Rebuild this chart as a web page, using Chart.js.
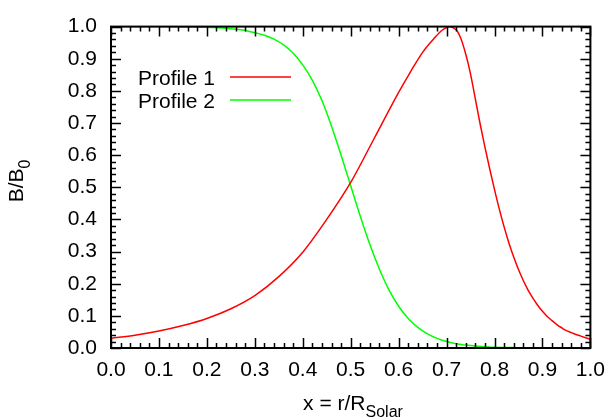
<!DOCTYPE html>
<html>
<head>
<meta charset="utf-8">
<script src="https://cdn.jsdelivr.net/npm/chart.js@4.4.0/dist/chart.umd.min.js"></script>
<style>
	html, body { margin: 0; padding: 0; background: #fff; }
	#wrap { width: 615px; height: 419px; }
</style>
</head>
<body>
<div id="wrap"><canvas id="myChart" width="615" height="419"></canvas></div>
<script>
const p1X = [0.00, 0.05, 0.10, 0.15, 0.20, 0.25, 0.30, 0.35, 0.40, 0.45, 0.50, 0.55, 0.60, 0.625, 0.65, 0.675, 0.69, 0.70, 0.705, 0.71, 0.715, 0.72, 0.725, 0.73, 0.735, 0.74, 0.745, 0.75, 0.76, 0.77, 0.78, 0.79, 0.80, 0.81, 0.82, 0.83, 0.84, 0.85, 0.86, 0.87, 0.88, 0.89, 0.90, 0.91, 0.92, 0.93, 0.94, 0.95, 0.96, 0.97, 0.98, 0.99, 1.00];
const p1Y = [0.030, 0.040, 0.053, 0.070, 0.092, 0.122, 0.163, 0.222, 0.298, 0.400, 0.515, 0.655, 0.795, 0.860, 0.920, 0.965, 0.988, 0.997, 1.000, 0.999, 0.995, 0.990, 0.979, 0.962, 0.940, 0.914, 0.885, 0.852, 0.775, 0.697, 0.625, 0.557, 0.493, 0.432, 0.377, 0.327, 0.283, 0.244, 0.210, 0.180, 0.155, 0.133, 0.114, 0.098, 0.085, 0.073, 0.063, 0.054, 0.048, 0.042, 0.037, 0.032, 0.027];

const p2X = [0.00, 0.10, 0.15, 0.20, 0.25, 0.28, 0.30, 0.32, 0.34, 0.36, 0.38, 0.40, 0.42, 0.44, 0.46, 0.48, 0.50, 0.52, 0.54, 0.56, 0.58, 0.60, 0.62, 0.64, 0.66, 0.68, 0.70, 0.72, 0.74, 0.76, 0.78, 0.80, 0.85, 0.90, 1.00];
const p2Y = [1.000, 1.000, 0.999, 0.998, 0.993, 0.988, 0.981, 0.973, 0.961, 0.943, 0.917, 0.881, 0.833, 0.770, 0.690, 0.600, 0.505, 0.410, 0.322, 0.245, 0.180, 0.130, 0.092, 0.064, 0.044, 0.030, 0.020, 0.013, 0.009, 0.006, 0.004, 0.002, 0.001, 0.000, 0.000];

const seriesNames = ['Profile 1', 'Profile 2'];
const seriesColors = ['#ff0000', '#00ff00'];
const tickValues = [0, 0.1, 0.2, 0.3, 0.4, 0.5, 0.6, 0.7, 0.8, 0.9, 1.0];

const FONT = 'Liberation Sans, Arial, sans-serif';

const toPoints = (xs, ys) => xs.map((x, i) => ({ x: x, y: ys[i] }));

// border, inward ticks, key and axis titles drawn gnuplot style
const gnuFrame = {
	id: 'gnuFrame',
	afterDatasetsDraw(chart) {
		const ctx = chart.ctx;
		const a = chart.chartArea;
		const sx = chart.scales.x, sy = chart.scales.y;
		ctx.save();
		ctx.strokeStyle = '#000';
		ctx.lineWidth = 1.5;
		for (let i = 0; i <= 50; i++) {
			const v = i / 50;
			const len = (i % 5 === 0) ? 10 : 5;
			const px = Math.round(sx.getPixelForValue(v)) + 0.5;
			const py = Math.round(sy.getPixelForValue(v)) + 0.5;
			ctx.beginPath();
			ctx.moveTo(px, a.bottom); ctx.lineTo(px, a.bottom - len);
			ctx.moveTo(px, a.top); ctx.lineTo(px, a.top + len);
			ctx.moveTo(a.left, py); ctx.lineTo(a.left + len, py);
			ctx.moveTo(a.right, py); ctx.lineTo(a.right - len, py);
			ctx.stroke();
		}
		ctx.lineWidth = 2;
		ctx.strokeRect(a.left, a.top, a.right - a.left, a.bottom - a.top);

		// key
		ctx.font = '21px ' + FONT;
		ctx.fillStyle = '#000';
		ctx.textAlign = 'right';
		ctx.textBaseline = 'alphabetic';
		chart.data.datasets.forEach((ds, i) => {
			const y = 77 + i * 23;
			ctx.fillText(ds.label, 215, y + 8);
			ctx.strokeStyle = ds.borderColor;
			ctx.lineWidth = 1.5;
			ctx.beginPath();
			ctx.moveTo(230, y); ctx.lineTo(291, y);
			ctx.stroke();
		});

		// x title
		ctx.textAlign = 'left';
		ctx.font = '21px ' + FONT;
		const main = 'x = r/R', sub = 'Solar';
		const w1 = ctx.measureText(main).width;
		ctx.font = '16px ' + FONT;
		const w2 = ctx.measureText(sub).width;
		let x0 = 353 - (w1 + w2) / 2;
		ctx.font = '21px ' + FONT;
		ctx.fillText(main, x0, 410);
		ctx.font = '16px ' + FONT;
		ctx.fillText(sub, x0 + w1, 417);

		// y title
		ctx.translate(23, 181);
		ctx.rotate(-Math.PI / 2);
		ctx.font = '21px ' + FONT;
		const m2 = 'B/B', s2 = '0';
		const v1 = ctx.measureText(m2).width;
		ctx.font = '16px ' + FONT;
		const v2 = ctx.measureText(s2).width;
		const y0 = -(v1 + v2) / 2;
		ctx.font = '21px ' + FONT;
		ctx.fillText(m2, y0, 0);
		ctx.font = '16px ' + FONT;
		ctx.fillText(s2, y0 + v1, 7);
		ctx.restore();
	}
};

const ctx = document.getElementById('myChart').getContext('2d');
const myChart = new Chart(ctx, {
	type: 'scatter',
	data: {
		datasets: [{
			label: seriesNames[0],
			data: toPoints(p1X, p1Y),
			borderColor: seriesColors[0],
			borderWidth: 1.5,
			showLine: true,
			pointRadius: 0,
			cubicInterpolationMode: 'monotone',
		}, {
			label: seriesNames[1],
			data: toPoints(p2X, p2Y),
			borderColor: seriesColors[1],
			borderWidth: 1.5,
			showLine: true,
			pointRadius: 0,
			cubicInterpolationMode: 'monotone',
		}]
	},
	options: {
		responsive: false,
		animation: false,
		layout: { padding: { left: 0, top: 16, right: 23, bottom: 0 } },
		plugins: {
			legend: { display: false },
			tooltip: { enabled: false },
		},
		scales: {
			x: {
				type: 'linear',
				min: 0,
				max: 1,
				afterFit: (scale) => { scale.height = 71; },
				afterBuildTicks: (scale) => { scale.ticks = tickValues.map(v => ({ value: v })); },
				grid: { display: false, drawTicks: false },
				border: { display: false },
				ticks: {
					padding: 10,
					maxRotation: 0,
					autoSkip: false,
					color: '#000',
					font: { family: FONT, size: 21 },
					callback: (v) => v.toFixed(1),
				},
			},
			y: {
				type: 'linear',
				min: 0,
				max: 1,
				afterFit: (scale) => { scale.width = 111; },
				afterBuildTicks: (scale) => { scale.ticks = tickValues.map(v => ({ value: v })); },
				grid: { display: false, drawTicks: false },
				border: { display: false },
				ticks: {
					padding: 14,
					autoSkip: false,
					color: '#000',
					font: { family: FONT, size: 21 },
					callback: (v) => v.toFixed(1),
				},
			}
		}
	},
	plugins: [gnuFrame],
});
</script>
</body>
</html>
